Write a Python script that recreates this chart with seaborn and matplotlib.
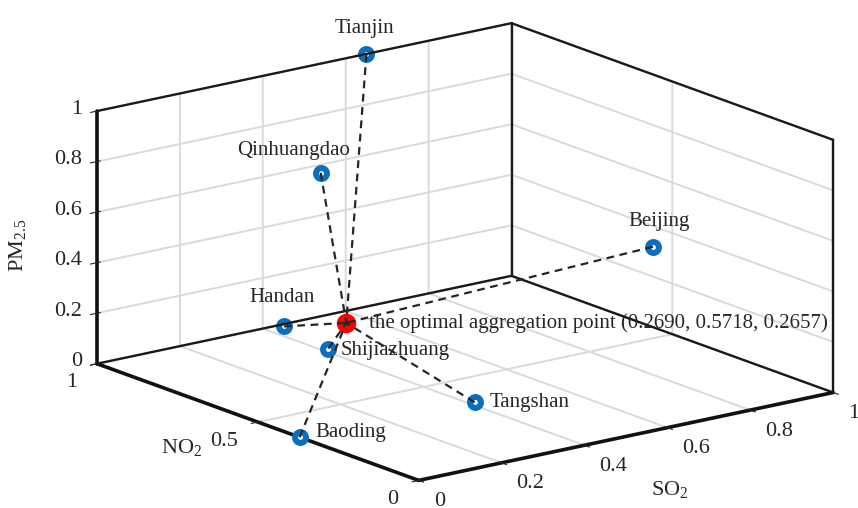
import numpy as np
import pandas as pd
import matplotlib
matplotlib.use("Agg")
import matplotlib.pyplot as plt
import seaborn as sns
from mpl_toolkits.mplot3d import proj3d

# === data (normalised values) ===
cities = ["Tianjin", "Qinhuangdao", "Beijing", "Handan", "Shijiazhuang", "Tangshan", "Baoding"]
so2 = [0.65, 0.40, 0.86, 0.42, 0.31, 0.36, 0.00]
no2 = [1.00, 0.82, 0.38, 0.96, 0.68, 0.29, 0.37]
pm25 = [1.00, 0.70, 0.45, 0.02, 0.10, 0.05, 0.00]
opt_point = [0.2690, 0.5718, 0.2657]
opt_label = "the optimal aggregation point (0.2690, 0.5718, 0.2657)"

x_ticks = [0, 0.2, 0.4, 0.6, 0.8, 1]
y_ticks = [0, 0.5, 1]
z_ticks = [0, 0.2, 0.4, 0.6, 0.8, 1]
x_ticklabels = ["0", "0.2", "0.4", "0.6", "0.8", "1"]
y_ticklabels = ["0", "0.5", "1"]
z_ticklabels = ["0", "0.2", "0.4", "0.6", "0.8", "1"]

# label offsets in pixels (dx, dy, ha)
label_pos = {
    "Tianjin": (-2, 25, "center"),
    "Qinhuangdao": (-27, 22, "center"),
    "Beijing": (6, 25, "center"),
    "Handan": (-2, 29, "center"),
    "Shijiazhuang": (12, -2, "left"),
    "Tangshan": (15, 0, "left"),
    "Baoding": (16, 5, "left"),
}

df = pd.DataFrame({"city": cities, "SO2": so2, "NO2": no2, "PM25": pm25})

sns.set_style("white")
plt.rcParams["font.family"] = ["Liberation Serif", "DejaVu Serif"]
plt.rcParams["mathtext.default"] = "regular"
plt.rcParams["grid.color"] = "#dadada"
plt.rcParams["grid.linewidth"] = 1.4

fig = plt.figure(figsize=(8.58, 5.08), dpi=100)
ax = fig.add_axes([-0.2235, -0.2695, 1.507, 1.507], projection="3d", computed_zorder=False)
ax.set_proj_type("ortho")
ax.view_init(elev=16.1, azim=-127.4)
ax.set_box_aspect((1, 1.015, 0.504))

ax.set_xlim(0, 1)
ax.set_ylim(0, 1)
ax.set_zlim(0, 1)
ax.set_xticks(x_ticks)
ax.set_yticks(y_ticks)
ax.set_zticks(z_ticks)
# tick labels are placed by hand below (MATLAB style offsets)
ax.set_xticklabels([])
ax.set_yticklabels([])
ax.set_zticklabels([])

for axis in (ax.xaxis, ax.yaxis, ax.zaxis):
    axis.set_pane_color((1, 1, 1, 1))
    axis.line.set_linewidth(2.6)
    axis.line.set_color("#111111")

# back edges of the box (MATLAB "box on" look)
edge_kw = dict(color="#1a1a1a", lw=1.7)
ax.plot([0, 1], [1, 1], [0, 0], **edge_kw)
ax.plot([1, 1], [1, 0], [0, 0], **edge_kw)
ax.plot([1, 1], [1, 1], [0, 1], **edge_kw)
ax.plot([1, 1], [0, 0], [0, 1], **edge_kw)
ax.plot([0, 1], [1, 1], [1, 1], **edge_kw)
ax.plot([1, 1], [1, 0], [1, 1], **edge_kw)

# dashed links to the optimal point
for _, r in df.iterrows():
    ax.plot([r.SO2, opt_point[0]], [r.NO2, opt_point[1]], [r.PM25, opt_point[2]],
            ls=(0, (3.5, 2.5)), color="#262626", lw=1.6)

ax.scatter(df.SO2, df.NO2, df.PM25, s=62, facecolor="white", edgecolor="#0a6fbf",
           linewidth=4.3, depthshade=False)
ax.scatter([opt_point[0]], [opt_point[1]], [opt_point[2]], s=170, color="#ff0000",
           depthshade=False)

fig.canvas.draw()
proj = ax.get_proj()


def put(text, xyz, dx, dy, ha, size=15):
    px, py, _ = proj3d.proj_transform(*xyz, proj)
    ax.annotate(text, xy=(px, py), xycoords="data", xytext=(dx, dy),
                textcoords="offset pixels", ha=ha, va="center", fontsize=size)


for _, r in df.iterrows():
    dx, dy, ha = label_pos[r.city]
    put(r.city, (r.SO2, r.NO2, r.PM25), dx, dy, ha)
put(opt_label, opt_point, 23, 0, "left")

for t, lab in zip(x_ticks, x_ticklabels):
    put(lab, (t, 0, 0), 15, -21, "left", 16)
for t, lab in zip(y_ticks, y_ticklabels):
    put(lab, (0, t, 0), -20, -19, "right", 16)
for t, lab in zip(z_ticks, z_ticklabels):
    put(lab, (0, 1, t), -15, 2, "right", 16)

fig.text(18 / 858, 1 - 245 / 508, "PM$_{2.5}$", rotation=90, ha="center", va="center", fontsize=16)
fig.text(182 / 858, 1 - 448 / 508, "NO$_2$", ha="center", va="center", fontsize=16)
fig.text(670 / 858, 1 - 490 / 508, "SO$_2$", ha="center", va="center", fontsize=16)

fig.savefig("out.png", dpi=100)
